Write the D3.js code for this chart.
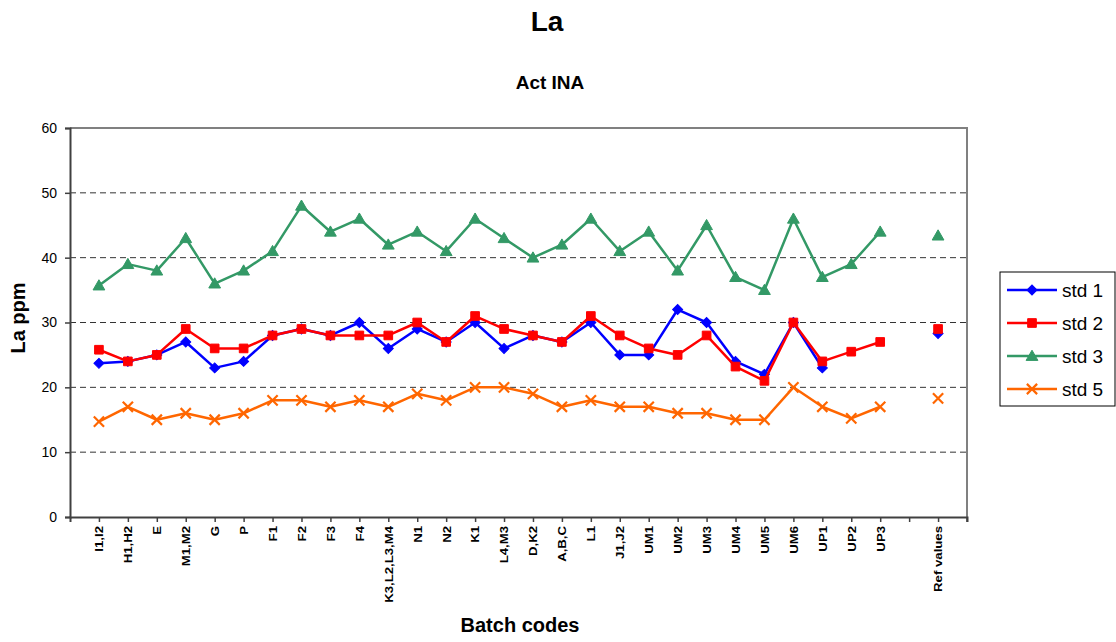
<!DOCTYPE html>
<html>
<head>
<meta charset="utf-8">
<script src="https://cdn.jsdelivr.net/npm/d3@7"></script>
<style>
  body { margin: 0; background: #fff; }
  svg { display: block; font-family: Arial, "Liberation Sans", sans-serif; }
</style>
</head>
<body>
<svg id="chart" width="1116" height="642"></svg>
<script>
const categories = ["I1,I2","H1,H2","E","M1,M2","G","P","F1","F2","F3","F4","K3,L2,L3,M4","N1","N2","K1","L4,M3","D,K2","A,B,C","L1","J1,J2","UM1","UM2","UM3","UM4","UM5","UM6","UP1","UP2","UP3","","Ref values"];
const std1 = [23.7,24,25,27,23,24,28,29,28,30,26,29,27,30,26,28,27,30,25,25,32,30,24,22,30,23,null,null,null,28.3];
const std2 = [25.8,24,25,29,26,26,28,29,28,28,28,30,27,31,29,28,27,31,28,26,25,28,23.2,21,30,24,25.5,27,null,29];
const std3 = [35.7,39,38,43,36,38,41,48,44,46,42,44,41,46,43,40,42,46,41,44,38,45,37,35,46,37,39,44,null,43.4];
const std5 = [14.7,17,15,16,15,16,18,18,17,18,17,19,18,20,20,19,17,18,17,17,16,16,15,15,20,17,15.2,17,null,18.3];
const yTicks = [0,10,20,30,40,50,60];
const seriesNames = ["std 1","std 2","std 3","std 5"];

const colors = ["#0000FF","#FF0000","#339966","#FF6600"];
const markers = ["diamond","square","triangle","cross"];
const seriesData = [std1, std2, std3, std5];

const svg = d3.select("#chart");
const pLeft = 70, pRight = 967, pTop = 128, pBottom = 517;

const x = d3.scalePoint().domain(d3.range(categories.length)).range([pLeft, pRight]).padding(1);
const y = d3.scaleLinear().domain([0, 60]).range([pBottom, pTop]);

// gridlines
svg.append("g").selectAll("line").data(yTicks.filter(t => t > 0 && t < 60)).join("line")
  .attr("x1", pLeft).attr("x2", pRight)
  .attr("y1", d => y(d)).attr("y2", d => y(d))
  .attr("stroke", "#333").attr("stroke-width", 1).attr("stroke-dasharray", "6,4");

// frame top/right
svg.append("path")
  .attr("d", `M${pLeft},${pTop}H${pRight}V${pBottom}`)
  .attr("fill", "none").attr("stroke", "#808080").attr("stroke-width", 2);

// y axis
const yAxis = svg.append("g").attr("transform", `translate(${pLeft},0)`)
  .call(d3.axisLeft(y).tickValues(yTicks).tickSize(5).tickPadding(8).tickFormat(d3.format("d")));
yAxis.select(".domain").attr("stroke", "#404040").attr("stroke-width", 2);
yAxis.selectAll(".tick line").attr("stroke", "#404040").attr("stroke-width", 1.5);
yAxis.selectAll("text").attr("font-size", 14).attr("fill", "#000").attr("font-family", "Arial, 'Liberation Sans', sans-serif");

// x axis
const xAxis = svg.append("g").attr("transform", `translate(0,${pBottom})`)
  .call(d3.axisBottom(x).tickSize(5).tickFormat(i => categories[i]));
xAxis.select(".domain").attr("stroke", "#404040").attr("stroke-width", 2);
xAxis.selectAll(".tick line").attr("stroke", "#404040").attr("stroke-width", 1.5);
svg.append("line").attr("x1", pRight).attr("x2", pRight).attr("y1", pBottom).attr("y2", pBottom + 5).attr("stroke", "#404040").attr("stroke-width", 1.5);
xAxis.selectAll("text")
  .attr("font-size", 11).attr("font-weight", "bold").attr("fill", "#000")
  .attr("font-family", "Arial, 'Liberation Sans', sans-serif")
  .attr("text-anchor", "end")
  .attr("dy", "0.35em")
  .attr("y", 0)
  .attr("transform", "translate(0,9) rotate(-90) scale(1.2,1)");

// series
const line = d3.line().defined(d => d.v != null).x(d => x(d.i)).y(d => y(d.v));
const sym = {
  diamond: d3.symbol().type(d3.symbolSquare).size(50),
  square: d3.symbol().type(d3.symbolSquare).size(75),
  triangle: d3.symbol().type(d3.symbolTriangle).size(60),
  cross: d3.symbol().type(d3.symbolTimes).size(70)
};
function drawMarker(g, kind, color) {
  const p = g.append("path").attr("d", sym[kind]());
  if (kind === "cross") p.attr("fill", "none").attr("stroke", color).attr("stroke-width", 2.2);
  else p.attr("fill", color).attr("stroke", color).attr("stroke-width", 1);
  if (kind === "triangle") p.attr("transform", "translate(0,1)");
  if (kind === "diamond") p.attr("transform", "rotate(45)");
}

const order = [2, 3, 0, 1];
order.forEach(s => {
  const pts = seriesData[s].map((v, i) => ({ i, v }));
  const g = svg.append("g");
  g.append("path").datum(pts).attr("d", line)
    .attr("fill", "none").attr("stroke", colors[s]).attr("stroke-width", 2.5).attr("stroke-linejoin", "round");
  pts.filter(d => d.v != null).forEach(d => {
    const mg = g.append("g").attr("transform", `translate(${x(d.i)},${y(d.v)})`);
    drawMarker(mg, markers[s], colors[s]);
  });
});

// titles
svg.append("text").attr("x", 547).attr("y", 31).attr("text-anchor", "middle")
  .attr("font-size", 28).attr("font-weight", "bold").text("La");
svg.append("text").attr("x", 550).attr("y", 89).attr("text-anchor", "middle")
  .attr("font-size", 19).attr("font-weight", "bold").text("Act INA");
svg.append("text").attr("x", 520).attr("y", 632).attr("text-anchor", "middle")
  .attr("font-size", 20).attr("font-weight", "bold").text("Batch codes");
svg.append("text").attr("transform", "translate(25,318) rotate(-90)").attr("text-anchor", "middle")
  .attr("font-size", 20).attr("font-weight", "bold").text("La ppm");

// legend
const lg = svg.append("g");
lg.append("rect").attr("x", 1000).attr("y", 272).attr("width", 115).attr("height", 134)
  .attr("fill", "#fff").attr("stroke", "#000").attr("stroke-width", 1);
seriesNames.forEach((name, s) => {
  const yy = 290 + s * 33;
  lg.append("line").attr("x1", 1007).attr("x2", 1057).attr("y1", yy).attr("y2", yy)
    .attr("stroke", colors[s]).attr("stroke-width", 2.5);
  const mg = lg.append("g").attr("transform", `translate(1032,${yy})`);
  drawMarker(mg, markers[s], colors[s]);
  lg.append("text").attr("x", 1062).attr("y", yy).attr("dy", "0.35em")
    .attr("font-size", 19).text(name);
});
</script>
</body>
</html>
